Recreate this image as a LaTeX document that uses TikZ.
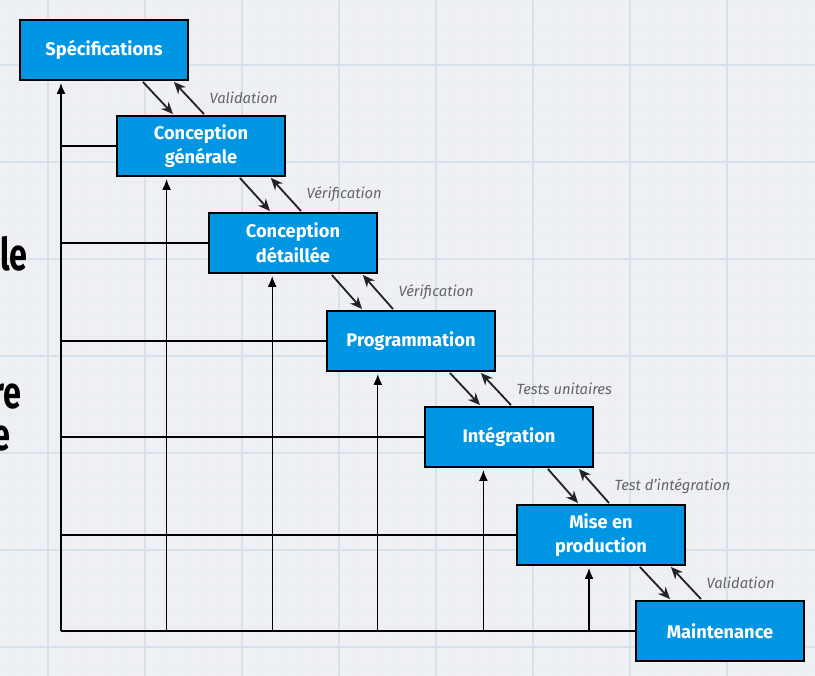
\documentclass[tikz,border=0pt]{standalone}
\usepackage{fontspec}
\setmainfont{Fira Sans}
\newfontfamily\fragfont{Fira Sans}[FakeStretch=0.72]
\usepackage{tikz}
\usetikzlibrary{arrows.meta,positioning,calc}
\definecolor{stageblue}{RGB}{0,150,228}
\definecolor{papergrey}{RGB}{238,240,244}
\definecolor{gridmajor}{RGB}{214,225,236}
\definecolor{gridminor}{RGB}{233,236,241}
\definecolor{notegrey}{RGB}{100,100,105}
\definecolor{arrowdark}{RGB}{35,35,35}
\tikzset{
  base/.style={font=\fontsize{13}{17.5}\selectfont\bfseries, align=center, text=white},
  stage/.style={base, rectangle, draw=black, fill=stageblue, line width=1.3pt, minimum width=4.2cm, minimum height=1.5cm, inner sep=2pt},
  flow/.style={-{Stealth[length=3mm,width=2.6mm]}, line width=1.3pt, draw=arrowdark, shorten <=1pt, shorten >=1pt},
  back/.style={-{Latex[length=2.7mm,width=2.2mm]}, line width=0.9pt, draw=black, shorten >=1.5pt},
  rail/.style={line width=0.9pt, draw=black},
  lbl/.style={font=\fontsize{10.5}{12}\selectfont\itshape, text=notegrey, inner sep=1pt},
  cut/.style={font=\fragfont\fontsize{32}{32}\selectfont\bfseries, text=black, inner sep=0pt, anchor=base east},
}

\begin{document}
\begin{tikzpicture}[x=0.025cm, y=-0.025cm]
  \useasboundingbox (0,0) rectangle (815,676);
  % squared paper
  \fill[papergrey] (0,0) rectangle (815,676);
  \foreach \k in {0,...,41}{\draw[gridminor, line width=0.3pt] ({9.2+19.4*\k},0) -- ++(0,676);}
  \foreach \k in {0,...,34}{\draw[gridminor, line width=0.3pt] (0,{6.8+19.4*\k}) -- ++(815,0);}
  \foreach \k in {0,...,7}{\draw[gridmajor, line width=0.8pt] ({48+97*\k},0) -- ++(0,676);}
  \foreach \k in {0,...,6}{\draw[gridmajor, line width=0.8pt] (0,{65+97*\k}) -- ++(815,0);}
  % cut-off words of the slide
  \node[cut] (frag1) at (28,270) {le};
  \node[cut] (frag2) at (22,408) {re};
  \node[cut] (frag3) at (11,450) {e};
  % stages
  \node[stage] (spec)  at (104,50)  {Spécifications};
  \node[stage] (cg)    at (201,146) {Conception\\générale};
  \node[stage] (cd)    at (293,243) {Conception\\détaillée};
  \node[stage] (prog)  at (411,341) {Programmation};
  \node[stage] (integ) at (509,437) {Intégration};
  \node[stage] (mep)   at (601,535) {Mise en\\production};
  \node[stage] (maint) at (720,631) {Maintenance};
  % cascade down and back up
  \foreach \a/\b/\t in {spec/cg/Validation,cg/cd/Vérification,cd/prog/Vérification,prog/integ/Tests unitaires,integ/mep/Test d'intégration,mep/maint/Validation}{
    \draw[flow] ($(\a.south east)+(-47,0)$) -- ($(\b.north -| \a.south east)+(-15,0)$);
    \draw[flow] ($(\b.north -| \a.south east)+(16,0)$) -- node[lbl,right=13pt]{\t} ($(\a.south east)+(-16,0)$);
  }
  % feedback rail
  \coordinate (rail) at (61,631);
  \draw[rail] (maint.west) -- (rail);
  \draw[back] (rail) -- (rail |- spec.south);
  \foreach \s [count=\i] in {cg,cd,prog,integ,mep}{
    \draw[rail] (rail |- \s.west) -- (\s.west);
    \coordinate (up\i) at ({61+105.6*\i},631);
    \draw[back] (up\i) -- (up\i |- \s.south);
  }
\end{tikzpicture}
\end{document}
